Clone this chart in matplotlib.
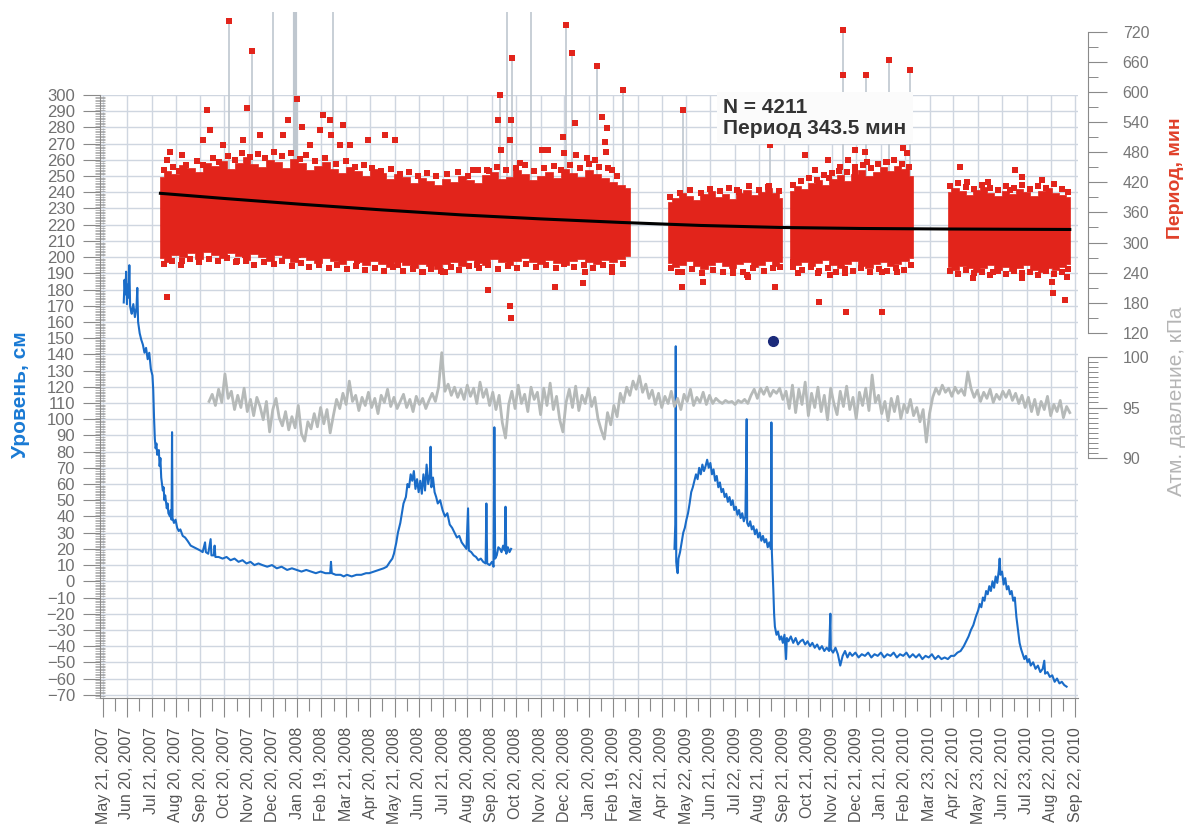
import numpy as np
import matplotlib
matplotlib.use('Agg')
import matplotlib.pyplot as plt
import matplotlib.dates as mdates
from matplotlib.ticker import MultipleLocator, FixedLocator
from datetime import datetime

plt.rcParams['font.family'] = ['Liberation Sans', 'DejaVu Sans']

# ---------------- data ----------------
START = np.datetime64('2007-05-21')  # day 0

tick_labels = ['May 21, 2007', 'Jun 20, 2007', 'Jul 21, 2007', 'Aug 20, 2007', 'Sep 20, 2007',
               'Oct 20, 2007', 'Nov 20, 2007', 'Dec 20, 2007', 'Jan 20, 2008', 'Feb 19, 2008',
               'Mar 21, 2008', 'Apr 20, 2008', 'May 21, 2008', 'Jun 20, 2008', 'Jul 21, 2008',
               'Aug 20, 2008', 'Sep 20, 2008', 'Oct 20, 2008', 'Nov 20, 2008', 'Dec 20, 2008',
               'Jan 20, 2009', 'Feb 19, 2009', 'Mar 22, 2009', 'Apr 21, 2009', 'May 22, 2009',
               'Jun 21, 2009', 'Jul 22, 2009', 'Aug 21, 2009', 'Sep 21, 2009', 'Oct 21, 2009',
               'Nov 21, 2009', 'Dec 21, 2009', 'Jan 21, 2010', 'Feb 20, 2010', 'Mar 23, 2010',
               'Apr 22, 2010', 'May 23, 2010', 'Jun 22, 2010', 'Jul 23, 2010', 'Aug 22, 2010',
               'Sep 22, 2010']

# water level, cm (day offset from START, value)
level_day = [26, 27, 28, 29, 30, 31, 32, 33, 34, 35, 36, 38, 40, 42, 43, 44, 46, 48, 50, 52,
             54, 56, 58, 60, 62, 63, 64, 65, 66, 67, 68, 70, 71, 72, 73, 74, 75, 76, 77, 78,
             80, 81, 82, 84, 85, 86, 86.6, 87.2, 89, 91, 93, 95, 97, 100, 103, 106, 110, 114,
             118, 122, 125, 128, 129, 132, 135, 136, 139, 140, 141, 145, 150, 155, 160, 165,
             170, 175, 180, 185, 190, 195, 200, 206, 212, 218, 224, 231, 237, 243, 249, 255,
             261, 267, 273, 279, 285, 286, 287, 292, 298, 302, 306, 312, 318, 324, 330, 334,
             340, 346, 352, 356, 360, 363, 365, 368, 370, 373, 375, 377, 380, 382, 384, 386,
             388, 390, 392, 394, 396, 398, 400, 402, 404, 406, 408, 410, 411, 412, 414, 416,
             418, 420, 423, 426, 429, 432, 435, 438, 441, 444, 447, 450, 453, 456, 458, 459,
             462, 465, 468, 471, 474, 477, 480, 481, 482, 485, 488, 490, 491, 492, 494, 496,
             498, 500, 502, 504, 505, 506, 508, 510, 512,
             600,
             717, 718, 718.6, 719.2, 720, 721, 722, 724, 726, 728, 730, 732, 734, 736, 738, 740,
             742, 744, 746, 748, 750, 752, 754, 756, 758, 760, 762, 764, 766, 768, 770, 772,
             774, 776, 778, 780, 782, 784, 786, 788, 790, 792, 794, 796, 798, 800, 802, 804,
             806, 807.6, 808.2, 810, 812, 814, 816, 818, 820, 822, 824, 826, 828, 830, 832,
             834, 836, 838, 838.6, 839.2, 840, 841, 842, 843, 845, 847, 849, 851, 853, 855,
             857, 858, 860, 863, 866, 869, 872, 875, 878, 881, 884, 887, 890, 893, 896, 899,
             902, 905, 908, 911, 912.6, 913.2, 916, 919, 922, 925, 928, 931, 934, 937, 940,
             944, 948, 952, 956, 960, 964, 968, 972, 976, 980, 984, 988, 992, 996, 1000, 1004,
             1008, 1012, 1016, 1020, 1024, 1028, 1032, 1036, 1040, 1044, 1048, 1052, 1056,
             1060, 1064, 1068, 1072, 1076, 1080, 1083, 1086, 1089, 1092, 1095, 1098, 1100,
             1102, 1104, 1106, 1108, 1110, 1112, 1114, 1116, 1118, 1120, 1122, 1124, 1125,
             1126, 1128, 1130, 1132, 1134, 1136, 1138, 1140, 1142, 1144, 1146, 1148, 1150,
             1152, 1154, 1156, 1158, 1160, 1162, 1164, 1167, 1170, 1173, 1176, 1179, 1181,
             1182, 1185, 1188, 1191, 1194, 1197, 1200, 1203, 1206, 1209]
level_cm = [172, 186, 177, 191, 171, 183, 175, 195, 170, 167, 165, 171, 163, 169, 181, 160, 153,
            149, 146, 141, 144, 137, 141, 131, 127, 118, 101, 88, 82, 85, 78, 81, 71, 76, 64, 60,
            56, 58, 50, 53, 45, 48, 42, 40, 44, 38, 92, 39, 36, 38, 33, 31, 32, 28, 27, 25, 22,
            21, 20, 19, 18, 24, 18, 17, 26, 16, 16, 22, 15, 15, 14, 15, 13, 14, 12, 13, 11, 12,
            10, 11, 10, 9, 10, 8, 9, 7, 8, 7, 6, 7, 6, 5, 6, 5, 5, 12, 5, 4, 4, 3, 4, 3, 4, 4,
            5, 5, 6, 7, 8, 9, 12, 14, 17, 24, 30, 36, 42, 48, 52, 60, 58, 66, 62, 68, 57, 63,
            55, 62, 54, 66, 56, 72, 60, 66, 83, 58, 64, 55, 52, 48, 50, 44, 40, 42, 35, 33, 30,
            27, 28, 24, 22, 20, 45, 19, 18, 16, 15, 13, 14, 12, 11, 48, 11, 10, 12, 9, 95, 14,
            16, 21, 20, 18, 22, 19, 46, 17, 21, 18, 20,
            np.nan,
            20, 35, 145, 12, 8, 5, 14, 18, 24, 30, 33, 38, 42, 48, 55, 58, 62, 66, 63, 70, 66,
            72, 68, 71, 75, 70, 73, 66, 69, 62, 65, 58, 61, 55, 57, 52, 54, 49, 52, 47, 50, 44,
            46, 41, 44, 39, 42, 37, 40, 100, 36, 34, 37, 32, 34, 29, 32, 27, 30, 25, 28, 24,
            26, 21, 24, 20, 98, 18, 8, -5, -20, -28, -33, -31, -36, -34, -38, -33, -48, -35,
            -37, -34, -38, -35, -39, -37, -36, -39, -37, -40, -38, -41, -39, -42, -40, -43,
            -41, -43, -20, -42, -44, -41, -45, -52, -46, -43, -47, -44, -46, -44, -47, -45,
            -46, -44, -47, -45, -46, -44, -47, -45, -46, -44, -47, -45, -46, -44, -47, -45,
            -47, -45, -48, -46, -47, -45, -48, -46, -48, -47, -48, -46, -46, -44, -43, -40,
            -37, -34, -30, -27, -22, -18, -14, -16, -10, -12, -6, -8, -3, -6, 0, -4, 3, -1, 7,
            14, 4, 6, -2, 2, -5, -3, -8, -6, -12, -10, -22, -30, -38, -42, -45, -48, -46, -50,
            -48, -52, -50, -54, -52, -56, -54, -49, -57, -56, -59, -58, -62, -60, -63, -62,
            -64, -65]

# atmospheric pressure, kPa, every 4 days from 2007-10-01
pressure_first_day = 133
pressure_step_days = 4
pressure_kpa = [
    95.6, 96.3, 95.2, 96.8, 95.5, 98.3, 95.9, 96.6, 94.8, 96.2,
    95.0, 96.9, 94.6, 95.8, 94.2, 96.0, 95.1, 93.8, 95.6, 92.6,
    94.8, 95.9, 94.0, 93.2, 94.6, 92.8, 94.1, 93.0, 95.2, 92.4,
    91.7, 93.6, 92.9, 94.4, 93.1, 95.0, 93.4, 94.8, 92.5, 94.2,
    95.8, 94.9, 96.4, 95.3, 97.6, 95.6, 96.2, 94.7, 96.0, 95.2,
    96.5, 95.0, 95.9, 94.4, 96.2, 95.5, 96.8, 95.1, 96.0, 94.9,
    95.6, 96.3, 95.0, 95.8, 94.6, 96.1, 95.3, 95.9, 94.9, 95.7,
    96.4, 95.6, 97.0, 100.4, 96.6, 97.3, 96.2, 97.0, 96.0, 96.8,
    95.8, 97.2, 96.1, 96.9, 95.4, 97.5, 96.0, 96.8, 95.2, 96.5,
    94.8, 96.2, 93.5, 92.0, 95.3, 96.6, 94.9, 97.2, 95.4, 96.3,
    94.6, 97.0, 95.8, 96.5, 94.3, 96.9, 95.2, 97.4, 94.8, 96.1,
    93.8, 92.6, 95.5, 96.8, 95.0, 97.1, 94.7, 96.2, 95.4, 96.9,
    95.1, 96.0, 93.9, 92.8, 91.9, 94.5, 93.3, 95.2, 94.1, 96.4,
    95.5, 97.0, 96.2, 97.6, 96.8, 98.1, 96.5, 97.3, 95.9, 96.7,
    95.3, 96.4, 95.0, 96.1, 95.4, 96.6, 95.1, 95.9, 94.8, 96.3,
    95.6, 96.8, 95.2, 96.0, 95.5, 96.5, 95.3, 96.2, 95.4, 95.9,
    95.6, 95.4, 95.7, 95.5, 95.6, 95.3, 95.7, 95.5, 95.8, 95.4,
    96.2, 96.8, 95.9, 96.9, 96.3, 97.0, 96.1, 96.7, 96.4, 96.9,
    95.8, 96.6, 94.9, 97.2, 94.5, 96.8, 95.3, 97.5, 94.2, 96.4,
    95.0, 97.0, 94.6, 96.2, 93.8, 96.9, 95.4, 94.3, 96.6, 95.1,
    97.1, 94.8, 96.0, 93.9, 96.5, 95.2, 96.9, 94.7, 98.2, 95.5,
    96.2, 94.4, 95.6, 93.7, 95.9, 94.6, 96.1, 93.9, 95.3, 94.5,
    95.8, 94.2, 95.0, 93.6, 94.8, 91.6, 94.4, 96.0, 96.9, 96.3,
    97.2, 96.5, 96.9, 96.1, 97.0, 96.4, 96.8, 96.2, 98.5, 96.9,
    96.0, 96.7, 95.6, 96.5, 95.9, 96.8, 95.5, 96.3, 95.8, 96.6,
    96.0, 96.7, 95.7, 96.4, 95.4, 96.2, 95.0, 96.0, 94.6, 95.8,
    94.3, 95.6, 94.8, 96.1, 94.2, 95.3, 94.6, 95.7, 94.0, 95.1, 94.5]

# tide period, minutes: dense core band (day, upper, lower) for each recording segment
core_seg1_day = [72, 80, 90, 100, 110, 120, 130, 140, 150, 160, 170, 180, 190, 200, 210, 220,
                 230, 240, 250, 260, 270, 280, 290, 300, 310, 320, 330, 340, 350, 360, 370,
                 380, 390, 400, 410, 420, 430, 440, 450, 460, 470, 480, 490, 500, 510, 520,
                 530, 540, 550, 560, 570, 580, 590, 600, 610, 620, 630, 640, 650, 661]
core_seg1_hi = [430, 442, 436, 455, 448, 440, 458, 452, 462, 446, 458, 470, 456, 450, 464, 460,
                448, 466, 458, 444, 452, 460, 446, 438, 450, 442, 432, 446, 438, 426, 436,
                430, 418, 428, 422, 414, 426, 420, 432, 424, 418, 434, 440, 426, 430, 444,
                436, 424, 432, 440, 428, 446, 438, 430, 444, 436, 428, 420, 414, 408]
core_seg1_lo = [270, 262, 276, 272, 280, 268, 282, 276, 270, 280, 274, 266, 278, 272, 264, 276,
                270, 262, 272, 266, 260, 270, 264, 258, 266, 262, 256, 264, 258, 252, 262,
                256, 250, 258, 254, 248, 258, 262, 254, 266, 260, 256, 268, 262, 256, 264,
                270, 262, 258, 266, 260, 256, 264, 268, 262, 258, 266, 262, 268, 274]
core_seg2_day = [709, 718, 727, 736, 745, 754, 763, 772, 781, 790, 799, 808, 817, 826, 835,
                 844, 852]
core_seg2_hi = [380, 388, 398, 392, 384, 396, 402, 390, 396, 386, 398, 404, 394, 400, 408,
                398, 388]
core_seg2_lo = [260, 252, 256, 264, 254, 248, 256, 262, 254, 250, 258, 262, 252, 256, 264,
                254, 262]
core_seg3_day = [862, 871, 880, 889, 898, 907, 916, 925, 934, 943, 952, 961, 970, 979, 988,
                 997, 1006, 1016]
core_seg3_hi = [402, 412, 406, 418, 424, 414, 426, 434, 422, 436, 444, 432, 440, 450, 442,
                452, 446, 432]
core_seg3_lo = [264, 256, 262, 254, 260, 266, 256, 250, 258, 264, 254, 250, 258, 262, 254,
                258, 264, 270]
core_seg4_day = [1060, 1069, 1078, 1087, 1096, 1105, 1114, 1123, 1132, 1141, 1150, 1159, 1168,
                 1177, 1186, 1195, 1204, 1213]
core_seg4_hi = [400, 408, 402, 394, 404, 410, 398, 392, 402, 396, 406, 400, 392, 402, 408,
                398, 394, 390]
core_seg4_lo = [252, 246, 254, 250, 242, 250, 256, 246, 252, 244, 250, 256, 246, 242, 250,
                246, 252, 258]

# period values along the ragged edge of the dense band
edge_day = [76, 88, 95, 104, 118, 126, 138, 146, 157, 166, 174, 185, 194, 203, 215, 224, 236,
            247, 255, 266, 279, 292, 305, 316, 327, 338, 349, 361, 372, 384, 395, 407, 418,
            432, 446, 458, 471, 484, 494, 506, 518, 529, 541, 553, 566, 574, 586, 598, 610,
            622, 634, 645,
            76, 87, 98, 109, 121, 133, 144, 156, 167, 179, 190, 202, 214, 225, 237, 248, 259,
            271, 283, 294, 306, 318, 329, 341, 353, 364, 376, 389, 401, 412, 424, 436, 447,
            459, 472, 483, 496, 508, 519, 531, 543, 556, 568, 579, 591, 603, 615, 627, 639,
            652,
            712, 724, 737, 750, 761, 774, 786, 798, 811, 823, 836, 848,
            713, 726, 739, 752, 765, 778, 791, 803, 816, 829, 841, 850,
            866, 876, 886, 896, 905, 915, 924, 934, 944, 953, 963, 972, 982, 992, 1002, 1011,
            866, 877, 888, 898, 909, 920, 931, 941, 951, 962, 973, 984, 995, 1005, 1014,
            1063, 1073, 1083, 1093, 1103, 1113, 1123, 1133, 1143, 1153, 1163, 1173, 1183, 1193,
            1203, 1211,
            1063, 1073, 1083, 1093, 1103, 1113, 1123, 1133, 1143, 1153, 1163, 1173, 1183, 1193,
            1203, 1211]
edge_min = [444, 450, 442, 454, 462, 454, 468, 460, 472, 464, 478, 470, 476, 468, 480, 472, 478,
            466, 474, 462, 468, 456, 462, 450, 454, 448, 442, 446, 436, 440, 432, 438, 432,
            436, 440, 432, 444, 442, 450, 444, 448, 454, 442, 448, 452, 444, 454, 448, 456,
            450, 448, 432,
            258, 264, 256, 268, 262, 268, 264, 270, 262, 264, 256, 262, 258, 264, 254, 260,
            252, 256, 250, 256, 248, 254, 246, 250, 244, 252, 244, 248, 242, 248, 244, 252,
            246, 254, 250, 256, 248, 254, 250, 258, 252, 256, 250, 258, 252, 256, 250, 256,
            252, 258,
            390, 398, 404, 398, 406, 402, 408, 400, 412, 404, 412, 402,
            249, 241, 247, 239, 245, 241, 247, 241, 249, 243, 249, 251,
            414, 422, 428, 424, 434, 438, 442, 440, 450, 454, 448, 456, 460, 464, 456, 450,
            251, 245, 251, 243, 249, 241, 247, 243, 249, 241, 247, 243, 249, 245, 255,
            412, 418, 410, 406, 414, 408, 404, 412, 408, 414, 406, 412, 408, 416, 406, 400,
            243, 237, 245, 239, 241, 235, 243, 237, 243, 239, 241, 235, 243, 237, 241, 247]

# individual scattered period values outside the dense band
scatter_day = [158, 187, 243, 498, 513, 581, 588, 620, 652, 728, 837, 928, 929, 957, 986, 1013,
               130, 181, 232, 134, 125, 151, 176, 197, 226, 250, 272, 276, 285, 286, 301, 297,
               310, 332, 354, 366, 84, 99, 260, 80, 496, 512, 511, 499, 464, 482, 523, 551,
               558, 577, 578, 592, 593, 607, 617, 626, 632, 630, 631, 639, 795, 834, 881, 893,
               910, 911, 925, 935, 943, 956, 959, 944, 984, 1004, 1009, 1075, 1084, 1110,
               1144, 1153, 1178, 1138,
               80, 99, 168, 178, 226, 245, 275, 319, 370, 400, 427, 413, 429, 483, 511, 512,
               567, 602, 639, 605, 450, 469, 722, 727, 753, 791, 809, 808, 843, 866, 872, 897,
               912, 931, 898, 932, 977, 978, 996, 1013, 1092, 1117, 1153, 1191, 1192, 1207,
               1210]
scatter_min = [741, 682, 586, 594, 668, 733, 677, 652, 604, 563, 494, 723, 634, 634, 664, 643,
               564, 568, 544, 524, 504, 494, 504, 514, 514, 530, 524, 554, 544, 514, 534, 494,
               494, 504, 514, 504, 480, 474, 494, 465, 544, 544, 504, 484, 444, 444, 458, 484,
               484, 510, 478, 538, 474, 468, 464, 550, 528, 500, 480, 444, 405, 411, 474, 444,
               464, 428, 450, 464, 484, 480, 460, 441, 460, 488, 478, 450, 420, 420,
               444, 430, 424, 405,
               191, 263, 263, 275, 285, 275, 275, 263, 255, 241, 241, 265, 241, 205, 173, 149,
               211, 219, 241, 241, 265, 255, 241, 211, 221, 239, 232, 236, 211, 261, 239, 239,
               235, 239, 182, 162, 162, 241, 241, 279, 229, 241, 229, 221, 199, 185,
               231]

# thin connecting lines of the period record (day, extreme value)
spike_day = [158, 187, 213, 241, 243, 289, 498, 507, 513, 537, 581, 588, 620, 652, 728, 837,
             929, 957, 986, 1013]
spike_top = [741, 682, 800, 800, 586, 800, 594, 800, 668, 800, 733, 677, 652, 604, 563, 494,
             723, 634, 664, 643]

# fitted trend of the period
trend_day = [72, 150, 250, 350, 450, 550, 650, 750, 850, 950, 1050, 1213]
trend_min = [398, 388, 376, 365, 355, 347, 340, 334, 330, 328, 327, 326]

stray_day = [840]
stray_cm = [148]

# ---------------- layout helpers ----------------
W, H = 1187, 830
fig = plt.figure(figsize=(W / 100, H / 100), dpi=100)
fig.patch.set_facecolor('white')


def box(l, t, r, b):
    return [l / W, 1 - b / H, (r - l) / W, (b - t) / H]


t0 = mdates.date2num(START)


def X(days):
    return t0 + np.asarray(days, dtype=float)


xlim = (X(-3.8), X(1223.3))
tick_x = [mdates.date2num(datetime.strptime(s, '%b %d, %Y')) for s in tick_labels]
minor_x = [(a + b) / 2 for a, b in zip(tick_x[:-1], tick_x[1:])]
right_pos = (1088 - 100) / (1078 - 100)

GRID = '#cfd6e0'
AXC = '#8a8a8a'

# ---------------- level axis ----------------
ax = fig.add_axes(box(100, 95, 1078, 698))
ax.set_xlim(*xlim)
ax.set_ylim(-72, 300)
ax.set_yticks(np.arange(-70, 301, 10))
ax.yaxis.set_minor_locator(MultipleLocator(1))
ax.set_xticks(tick_x)
ax.set_xticklabels(tick_labels, rotation=90, fontsize=11.5, color='#555555')
ax.xaxis.set_minor_locator(FixedLocator(minor_x))
ax.grid(True, which='major', color=GRID, lw=1.0)
ax.set_axisbelow(True)
for s in ['top', 'right']:
    ax.spines[s].set_visible(False)
for s in ['left', 'bottom']:
    ax.spines[s].set_color(AXC)
ax.tick_params(axis='y', which='major', direction='out', length=12, width=0.8, color=AXC,
               labelsize=12, labelcolor='#707070', pad=6)
ax.tick_params(axis='y', which='minor', direction='inout', length=7, width=0.5, color='#999999')
ax.tick_params(axis='x', which='major', direction='out', length=14, width=0.8, color=AXC, pad=7)
ax.tick_params(axis='x', which='minor', direction='out', length=9, width=0.8, color=AXC)

ax.plot(X(level_day), level_cm, color='#1a6cc8', lw=1.5, zorder=3)
ax.plot(X(stray_day), stray_cm, 'o', color='#1b2a7a', ms=7, zorder=4)

# ---------------- pressure axis ----------------
axb = fig.add_axes(box(100, 95, 1078, 698))
axb.set_xlim(*xlim)
axb.set_ylim(66.41, 125.76)
axb.patch.set_visible(False)
for s in ['top', 'left', 'bottom']:
    axb.spines[s].set_visible(False)
axb.spines['right'].set_position(('axes', right_pos))
axb.spines['right'].set_bounds(90, 100)
axb.spines['right'].set_color(AXC)
axb.xaxis.set_visible(False)
axb.yaxis.tick_right()
axb.set_yticks([90, 95, 100])
axb.yaxis.set_minor_locator(FixedLocator(np.arange(90, 100.01, 0.5)))
axb.tick_params(axis='y', which='major', length=14, width=0.8, color=AXC, labelsize=11.5,
                labelcolor='#777777', pad=11)
axb.tick_params(axis='y', which='minor', length=7, width=0.7, color=AXC)
p_days = pressure_first_day + pressure_step_days * np.arange(len(pressure_kpa))
axb.plot(X(p_days), pressure_kpa, color='#b6bab9', lw=2.0, zorder=2)

# ---------------- period axis ----------------
axp = fig.add_axes(box(100, 12, 1078, 698))
axp.set_xlim(*xlim)
axp.set_ylim(-607.3, 759.2)
axp.patch.set_visible(False)
for s in ['top', 'left', 'bottom']:
    axp.spines[s].set_visible(False)
axp.spines['right'].set_position(('axes', right_pos))
axp.spines['right'].set_bounds(120, 720)
axp.spines['right'].set_color(AXC)
axp.xaxis.set_visible(False)
axp.yaxis.tick_right()
axp.set_yticks(np.arange(120, 721, 60))
axp.yaxis.set_minor_locator(FixedLocator(np.arange(150, 720, 60)))
axp.tick_params(axis='y', which='major', length=14, width=0.8, color=AXC, labelsize=11.5,
                labelcolor='#777777', pad=11)
axp.tick_params(axis='y', which='minor', length=7, width=0.7, color=AXC)

for d, top in zip(spike_day, spike_top):
    axp.plot(X([d, d]), [390, top], color='#bfc7cf', lw=3.0 if d == 241 else 1.2, zorder=1)

RED = '#e2241b'
for dd, hi, lo in [(core_seg1_day, core_seg1_hi, core_seg1_lo),
                   (core_seg2_day, core_seg2_hi, core_seg2_lo),
                   (core_seg3_day, core_seg3_hi, core_seg3_lo),
                   (core_seg4_day, core_seg4_hi, core_seg4_lo)]:
    axp.fill_between(X(dd), lo, hi, step='mid', facecolor=RED, edgecolor=RED,
                     linewidth=0.5, zorder=2)
axp.plot(X(edge_day), edge_min, 's', color=RED, ms=4.8, mew=0, zorder=3)
axp.plot(X(scatter_day), scatter_min, 's', color=RED, ms=4.8, mew=0, zorder=3)
axp.plot(X(trend_day), trend_min, color='black', lw=2.2, zorder=4)

axp.text(X(778), 588, 'N = 4211\nПериод 343.5 мин', fontsize=15, fontweight='bold',
         color='#333333', ha='left', va='top', linespacing=1.15, zorder=6,
         bbox=dict(boxstyle='square,pad=0.3', fc='#fbfbfb', ec='none'))

# ---------------- axis titles ----------------
fig.text(21 / W, 1 - 395 / H, 'Уровень, см', rotation=90, color='#1a7ad4', fontsize=15,
         fontweight='bold', ha='center', va='center')
fig.text(1176 / W, 1 - 178 / H, 'Период, мин', rotation=90, color='#e0402a', fontsize=14,
         fontweight='bold', ha='center', va='center')
fig.text(1176 / W, 1 - 401 / H, 'Атм. давление, кПа', rotation=90, color='#b5b5b5',
         fontsize=15, ha='center', va='center')

fig.savefig('out.png', dpi=100, facecolor='white')
